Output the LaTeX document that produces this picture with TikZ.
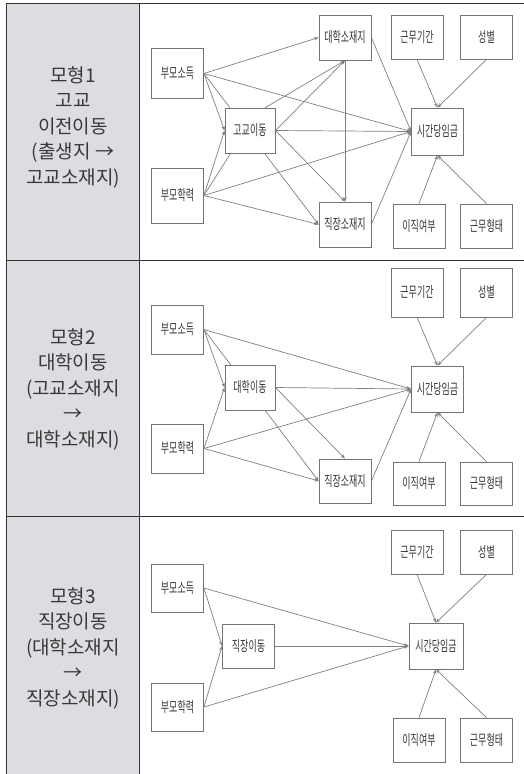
\documentclass[tikz,border=0pt]{standalone}
\usepackage{fontspec}
\usepackage{tikz}
\usetikzlibrary{arrows.meta}
\newfontfamily\krfont{Noto Sans CJK KR}
\newfontfamily\boxfont[FakeStretch=0.62]{Noto Sans CJK KR}
\usepackage{color}
\colorlet{linegray}{black!50}
\colorlet{boxgray}{black!55}
\colorlet{textgray}{black!78}
\definecolor{cellgray}{RGB}{220,221,224}
\pgfdeclarelayer{bg}
\pgfdeclarelayer{fg}
\pgfsetlayers{bg,main,fg}

\begin{document}
\begin{tikzpicture}[x=1pt,y=-1pt,
    box/.style={draw=boxgray,line width=0.8pt,fill=white,text=textgray,
        minimum width=52pt,minimum height=45pt,inner sep=0pt,
        font=\boxfont\fontsize{14.5}{15}\selectfont},
    tall/.style={minimum height=50pt},
    link/.style={draw=linegray,line width=0.7pt,-{Stealth[length=4.5pt,width=3.5pt]}},
    rowlabel/.style={align=center,text=textgray,
        font=\krfont\fontsize{19}{25.5}\selectfont},
    rule/.style={draw=black!80,line width=1pt}]
    \useasboundingbox (0,0) rectangle (524,774);

    \begin{pgfonlayer}{bg}
        \fill[cellgray] (6.5,3) rectangle (139,774);
        \draw[rule] (524,3) -- (6.5,3) -- (6.5,774);
        \draw[rule] (139,3) -- (139,774);
        \draw[rule] (6.5,260.5) -- (524,260.5);
        \draw[rule] (6.5,516) -- (524,516);
    \end{pgfonlayer}

    \node[rowlabel] (lab1) at (73,127) {모형1\\고교\\이전이동\\(출생지 →\\고교소재지)};
    \node[rowlabel] (lab2) at (73,389) {모형2\\대학이동\\(고교소재지\\→\\대학소재지)};
    \node[rowlabel] (lab3) at (73,648) {모형3\\직장이동\\(대학소재지\\→\\직장소재지)};

    \begin{pgfonlayer}{fg}
        % model 1
        \node[box,tall] (pinc1) at (177.5,73.5) {부모소득};
        \node[box,minimum height=55pt] (pedu1) at (177.5,195.5) {부모학력};
        \node[box,minimum width=50pt] (hsmv1) at (250,130.5) {고교이동};
        \node[box] (uloc1) at (345,37.5) {대학소재지};
        \node[box] (jloc1) at (345,224.5) {직장소재지};
        \node[box,minimum height=44pt] (tenu1) at (417,37) {근무기간};
        \node[box,minimum height=44pt] (sex1) at (486.5,37) {성별};
        \node[box,minimum height=47pt] (wage1) at (437.5,131.5) {시간당임금};
        \node[box,minimum height=44pt] (quit1) at (419,226) {이직여부};
        \node[box,minimum height=44pt] (emp1) at (486.5,226) {근무형태};
        % model 2
        \node[box,minimum height=49pt] (pinc2) at (177.5,329.5) {부모소득};
        \node[box,minimum height=49pt] (pedu2) at (177.5,448.5) {부모학력};
        \node[box,minimum width=50pt] (umv2) at (250,387.5) {대학이동};
        \node[box,minimum height=44pt] (jloc2) at (345,481) {직장소재지};
        \node[box,minimum height=49pt] (tenu2) at (417,292.5) {근무기간};
        \node[box,minimum height=49pt] (sex2) at (486.5,292.5) {성별};
        \node[box,minimum height=46pt] (wage2) at (437.5,389) {시간당임금};
        \node[box,minimum height=43pt] (quit2) at (419,483.5) {이직여부};
        \node[box,minimum height=43pt] (emp2) at (486.5,483.5) {근무형태};
        % model 3
        \node[box,minimum height=48pt] (pinc3) at (177.5,588) {부모소득};
        \node[box,minimum height=48pt] (pedu3) at (177.5,707) {부모학력};
        \node[box,minimum height=44pt] (jmv3) at (248.5,646) {직장이동};
        \node[box,minimum height=44pt] (tenu3) at (417,552) {근무기간};
        \node[box,minimum height=44pt] (sex3) at (486.5,552) {성별};
        \node[box,minimum width=54pt,minimum height=46pt] (wage3) at (436,646) {시간당임금};
        \node[box,minimum height=44pt] (quit3) at (419,740) {이직여부};
        \node[box,minimum height=44pt] (emp3) at (486.5,740) {근무형태};
    \end{pgfonlayer}

    % model 1
    \draw[link] (pinc1.east) -- (uloc1.west);
    \draw[link] (pinc1.east) -- (wage1.west);
    \draw[link] (pinc1.east) -- (hsmv1.west);
    \draw[link] (pinc1.east) -- (jloc1.west);
    \draw[link] (pedu1.east) -- (hsmv1.west);
    \draw[link] (pedu1.east) -- ([xshift=6pt]hsmv1.south west) -- ([xshift=-10pt]hsmv1.north east) -- (uloc1.south);
    \draw[link] (pedu1.east) -- (wage1.west);
    \draw[link] (pedu1.east) -- (jloc1.west);
    \draw[link] (hsmv1.east) -- (uloc1.south);
    \draw[link] (hsmv1.east) -- (wage1.west);
    \draw[link] (hsmv1.east) -- (jloc1.north);
    \draw[link] (uloc1.south) -- (jloc1.north);
    \draw[link] (uloc1.east) -- (wage1.west);
    \draw[link] (jloc1.east) -- (wage1.west);
    \draw[link] (tenu1.south) -- (wage1.north);
    \draw[link] (sex1.south) -- (wage1.north);
    \draw[link] (quit1.north) -- (wage1.south);
    \draw[link] (emp1.north) -- (wage1.south);

    % model 2
    \draw[link] (pinc2.east) -- (wage2.west);
    \draw[link] (pinc2.east) -- (umv2.west);
    \draw[link] (pinc2.east) -- (jloc2.west);
    \draw[link] (pedu2.east) -- (umv2.west);
    \draw[link] (pedu2.east) -- (wage2.west);
    \draw[link] (pedu2.east) -- (jloc2.west);
    \draw[link] (umv2.east) -- (wage2.west);
    \draw[link] (umv2.east) -- (jloc2.north);
    \draw[link] (jloc2.east) -- (wage2.west);
    \draw[link] (tenu2.south) -- (wage2.north);
    \draw[link] (sex2.south) -- (wage2.north);
    \draw[link] (quit2.north) -- (wage2.south);
    \draw[link] (emp2.north) -- (wage2.south);

    % model 3
    \draw[link] (pinc3.east) -- (jmv3.west);
    \draw[link] (pinc3.east) -- (wage3.west);
    \draw[link] (pedu3.east) -- (jmv3.west);
    \draw[link] (pedu3.east) -- (wage3.west);
    \draw[link] (jmv3.east) -- (wage3.west);
    \draw[link] (tenu3.south) -- (wage3.north);
    \draw[link] (sex3.south) -- (wage3.north);
    \draw[link] (quit3.north) -- (wage3.south);
    \draw[link] (emp3.north) -- (wage3.south);
\end{tikzpicture}
\end{document}
